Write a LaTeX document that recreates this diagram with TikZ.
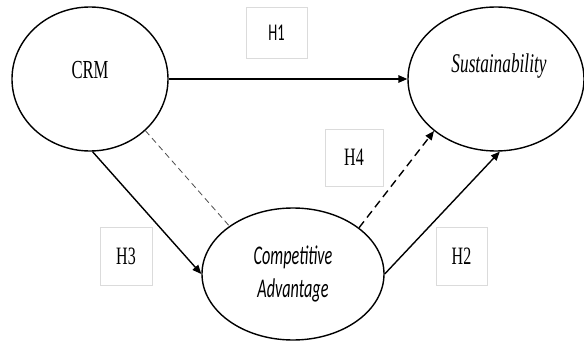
\documentclass[tikz,border=0pt]{standalone}
\usepackage{fontspec}
\usetikzlibrary{shapes.geometric,arrows.meta}
\newfontfamily\narrowserif[FakeStretch=0.64]{Liberation Serif}
\newfontfamily\narrowsans[FakeStretch=0.6]{Carlito}
\definecolor{boxgray}{gray}{0.86}
\definecolor{linkgray}{gray}{0.3}

\begin{document}
\begin{tikzpicture}[x=1pt,y=-1pt,
    construct/.style={draw, ellipse, line width=1.4pt, inner sep=0pt},
    hypbox/.style={draw=boxgray, line width=0.5pt, inner sep=0pt},
    effect/.style={-{Triangle[length=9pt,width=7.5pt]}, line width=1.4pt}]
    \useasboundingbox (0,0) rectangle (584,342);

    % Constructs
    \node[construct, minimum width=156pt, minimum height=144pt] (crm) at (90,79) {};
    \node[construct, minimum width=176pt, minimum height=144pt] (sust) at (496,79) {};
    \node[construct, minimum width=182pt, minimum height=132pt] (adv) at (293,274) {};

    \node[font=\narrowserif\fontsize{26}{30}\selectfont] (crm_txt) at (90,70) {CRM};
    \node[font=\narrowserif\itshape\fontsize{27}{31}\selectfont] (sust_txt) at (499,66) {Sustainability};
    \node[font=\narrowsans\itshape\fontsize{27}{33}\selectfont, align=center] (adv_txt) at (293,274) {Competitive\\Advantage};

    % Hypotheses
    \node[hypbox, minimum width=61pt, minimum height=51pt, font=\narrowsans\fontsize{24}{28}\selectfont] (h1) at (276.5,32.5) {H1};
    \node[hypbox, minimum width=58pt, minimum height=57pt, font=\narrowserif\fontsize{25}{29}\selectfont] (h4) at (354,157.5) {H4};
    \node[hypbox, minimum width=52pt, minimum height=58pt, font=\narrowserif\fontsize{25}{29}\selectfont] (h3) at (126,256) {H3};
    \node[hypbox, minimum width=51pt, minimum height=58pt, font=\narrowserif\fontsize{25}{29}\selectfont] (h2) at (461.5,256) {H2};

    % Edges
    \draw[effect] (crm.east) -- (sust.west);
    \draw[effect] (crm.-88) -- (adv.west);
    \draw[effect] (adv.east) -- (sust.-87);
    \draw[effect, dash pattern=on 8pt off 5pt] (adv.35) -- (sust.220);
    \draw[linkgray, line width=0.8pt, dash pattern=on 6pt off 4pt] (crm.-43) -- (adv.143);
\end{tikzpicture}
\end{document}
